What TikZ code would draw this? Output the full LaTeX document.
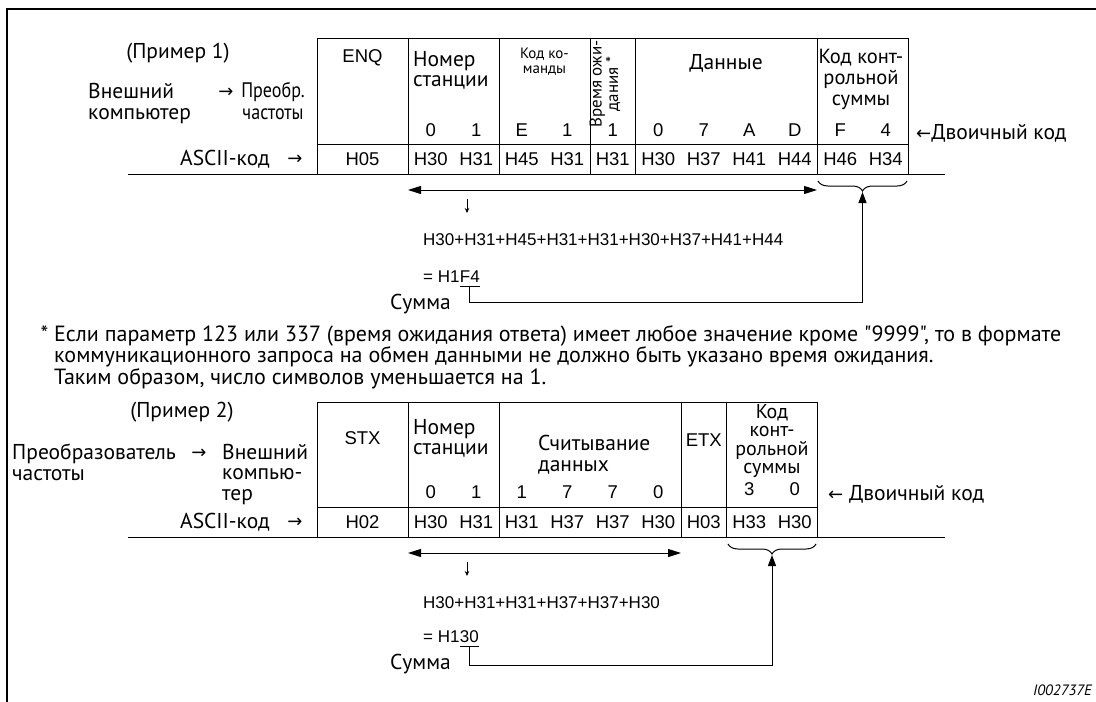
\documentclass[tikz,border=0pt]{standalone}
\usepackage{fontspec}
\setmainfont{PT Sans}
\newfontfamily\notefont{PT Sans}
\newfontfamily\arial{Liberation Sans}
\newfontfamily\narrow[FakeStretch=0.86]{PT Sans}
\newfontfamily\symb{DejaVu Sans}
\usetikzlibrary{arrows.meta, positioning, decorations.pathreplacing}

\begin{document}
\begin{tikzpicture}[x=1pt, y=-1pt,
  frameline/.style={line width=2.2pt},
  tabline/.style={line width=1pt},
  cell/.style={font=\arial\fontsize{18.5}{20}\selectfont, inner sep=0pt},
  lbl/.style={font=\fontsize{21.5}{20.5}\selectfont, align=left, inner sep=0pt},
  hdr/.style={font=\fontsize{21.5}{21}\selectfont, align=center, inner sep=0pt},
  smalllbl/.style={font=\fontsize{15}{15}\selectfont, align=center, inner sep=0pt},
  narrowlbl/.style={font=\narrow\fontsize{21}{22}\selectfont, align=center, inner sep=0pt},
  arrowsym/.style={font=\symb\fontsize{18}{18}\selectfont, inner sep=0pt},
  formula/.style={font=\arial\fontsize{17}{18}\selectfont, inner sep=0pt},
  note/.style={font=\notefont\fontsize{22}{19.5}\selectfont, align=left, inner sep=0pt},
  span/.style={{Triangle[length=13pt,width=8pt]}-{Triangle[length=13pt,width=8pt]}, line width=1pt},
  conn/.style={-{Triangle[length=11pt,width=8pt]}, line width=1pt},
  downtick/.style={-{Stealth[length=5pt,width=4.5pt]}, line width=1pt},
  chkbrace/.style={decorate, decoration={brace, amplitude=10pt}, line width=1pt}
]
\useasboundingbox (0,0) rectangle (1096,702);
\draw[frameline] (7,702) -- (7,9) -- (1096,9);

% Beispiel 1
\draw[tabline] (317,38) rectangle (908.5,174);
\draw[tabline] (317,144) -- (908.5,144);
\foreach \x in {408,499,590,635.5,817} \draw[tabline] (\x,38) -- (\x,174);
\draw[tabline] (128,174) -- (945,174);

\node[font=\fontsize{21.5}{20}\selectfont, inner sep=0pt] (prim1) at (178,53) {(Пример 1)};
\node[lbl, font=\fontsize{21.5}{21.5}\selectfont, anchor=north west] (ext1) at (88,83) {Внешний\\компьютер};
\node[arrowsym] (arr1) at (226,93) {→};
\node[narrowlbl, anchor=north] (conv1) at (273,82) {Преобр.\\частоты};

\node[cell] (enq) at (362.5,58) {ENQ};
\node[lbl, anchor=north west] (stn1) at (413,51) {Номер\\станции};
\node[smalllbl] (cmd1) at (544.5,62) {Код ко-\\манды};
\node[smalllbl, font=\fontsize{17}{14}\selectfont, rotate=90] (wait1) at (605,84) {Время ожи-\\дания *};
\node[hdr] (data1) at (726,63) {Данные};
\node[hdr, font=\fontsize{20.5}{21}\selectfont, anchor=north] (chk1) at (861,49) {Код конт-\\рольной\\суммы};

\foreach \k/\t [count=\i] in {2/0,3/1,4/E,5/1,6/1,7/0,8/7,9/A,10/D,11/F,12/4}
  \node[cell] (bina-\i) at ({317+45.5*(\k+0.5)},130) {\t};
\node[cell] (asca-0) at (362.5,159) {H05};
\foreach \k/\t [count=\i] in {2/H30,3/H31,4/H45,5/H31,6/H31,7/H30,8/H37,9/H41,10/H44,11/H46,12/H34}
  \node[cell] (asca-\i) at ({317+45.5*(\k+0.5)},159) {\t};

\node[lbl, anchor=west] (asc1) at (180,159) {ASCII-код};
\node[arrowsym] (asc1arr) at (295,160) {→};
\node[lbl, anchor=west] (bin1) at (916,133) {{\symb\fontsize{18}{18}\selectfont ←}Двоичный код};

\coordinate (l1) at (408,190);
\coordinate (r1) at (817,190);
\draw[span] (l1) -- (r1);
\coordinate (dt1a) at (467,199);
\coordinate (dt1b) at (467,213);
\draw[downtick] (dt1a) -- (dt1b);

\node[formula, anchor=west] (expr1) at (423,240) {H30+H31+H45+H31+H31+H30+H37+H41+H44};
\node[formula, anchor=west] (eq1) at (423,277) {=\ H1};
\node[formula, right=0pt of eq1, inner ysep=3pt] (f4) {F4};
\draw[tabline] (f4.south west) -- (f4.south east);
\node[lbl, anchor=west] (summa1) at (390,304) {Сумма};
\draw[chkbrace] (907,181) -- (818,181);
\coordinate (tip1) at (862.5,192);
\draw[conn] (f4.south) -- ++(0,16) -| (tip1);

\node[note, anchor=north west] (note) at (54,325) {\llap{* }Если параметр 123 или 337 (время ожидания ответа) имеет любое значение кроме "9999", то в формате\\коммуникационного запроса на обмен данными не должно быть указано время ожидания.\\Таким образом, число символов уменьшается на 1.};

% Beispiel 2
\draw[tabline] (317,402) rectangle (817,537);
\draw[tabline] (317,507) -- (817,507);
\foreach \x in {408,499,681,726.5} \draw[tabline] (\x,402) -- (\x,537);
\draw[tabline] (128,537) -- (945,537);

\node[font=\fontsize{21.5}{20}\selectfont, inner sep=0pt] (prim2) at (182,412) {(Пример 2)};
\node[lbl, anchor=north west] (conv2) at (12,444) {Преобразователь\\частоты};
\node[arrowsym] (arr2) at (199,454) {→};
\node[lbl, anchor=north west] (ext2) at (222,444) {Внешний\\компью-\\тер};

\node[cell] (stx) at (362.5,438) {STX};
\node[lbl, anchor=north west] (stn2) at (413,419) {Номер\\станции};
\node[lbl, anchor=north west] (read2) at (538,435) {Считывание\\данных};
\node[cell] (etx) at (703.75,440) {ETX};
\node[hdr, font=\fontsize{20}{18.4}\selectfont, anchor=north] (chk2) at (772,404) {Код\\конт-\\рольной\\суммы};

\foreach \k/\t [count=\i] in {2/0,3/1,4/1,5/7,6/7,7/0}
  \node[cell] (binb-\i) at ({317+45.5*(\k+0.5)},492) {\t};
\node[cell] (binb-7) at (749.25,489) {3};
\node[cell] (binb-8) at (794.75,489) {0};
\node[cell] (ascb-0) at (362.5,522) {H02};
\foreach \k/\t [count=\i] in {2/H30,3/H31,4/H31,5/H37,6/H37,7/H30,8/H03,9/H33,10/H30}
  \node[cell] (ascb-\i) at ({317+45.5*(\k+0.5)},522) {\t};

\node[lbl, anchor=west] (asc2) at (180,522) {ASCII-код};
\node[arrowsym] (asc2arr) at (295,523) {→};
\node[lbl, anchor=west] (bin2) at (828,494) {{\symb\fontsize{18}{18}\selectfont ←} Двоичный код};

\coordinate (l2) at (408,553);
\coordinate (r2) at (681,553);
\draw[span] (l2) -- (r2);
\coordinate (dt2a) at (467,562);
\coordinate (dt2b) at (467,576);
\draw[downtick] (dt2a) -- (dt2b);

\node[formula, anchor=west] (expr2) at (423,603) {H30+H31+H31+H37+H37+H30};
\node[formula, anchor=west] (eq2) at (423,637) {=\ H1};
\node[formula, right=0pt of eq2, inner ysep=3pt] (s30) {30};
\draw[tabline] (s30.south west) -- (s30.south east);
\node[lbl, anchor=west] (summa2) at (390,664) {Сумма};
\draw[chkbrace] (816,544) -- (728,544);
\coordinate (tip2) at (772,555);
\draw[conn] (s30.south) -- ++(0,19) -| (tip2);

\node[font=\itshape\fontsize{15}{16}\selectfont, anchor=east, inner sep=0pt] (ref) at (1092,690) {I002737E};
\end{tikzpicture}
\end{document}
